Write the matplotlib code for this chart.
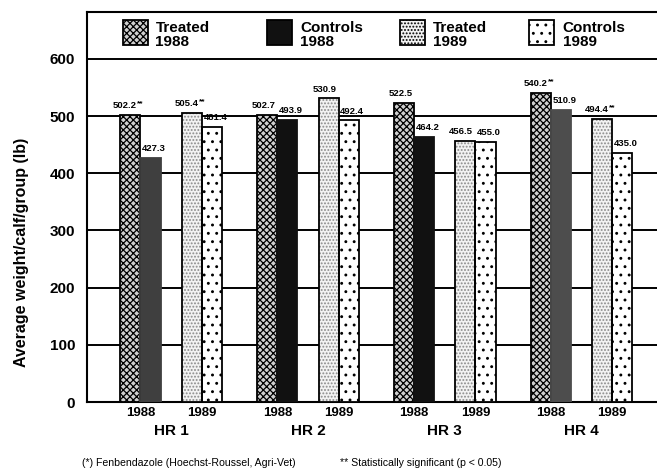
import matplotlib
matplotlib.use("Agg")
import matplotlib.pyplot as plt
from matplotlib.patches import Rectangle
from matplotlib.transforms import blended_transform_factory
import numpy as np

plt.rcParams['font.family'] = ['Liberation Sans', 'DejaVu Sans']
plt.rcParams['hatch.linewidth'] = 0.9

groups = ["HR 1", "HR 2", "HR 3", "HR 4"]
years = ["1988", "1989"]
treated_1988 = [502.2, 502.7, 522.5, 540.2]
controls_1988 = [427.3, 493.9, 464.2, 510.9]
treated_1989 = [505.4, 530.9, 456.5, 494.4]
controls_1989 = [481.4, 492.4, 455.0, 435.0]
sig_treated_1988 = [True, False, False, True]
sig_treated_1989 = [True, False, False, True]
legend_labels = ["Treated\n1988", "Controls\n1988", "Treated\n1989", "Controls\n1989"]
yticks = [0, 100, 200, 300, 400, 500, 600]

W, H = 657, 470
fig = plt.figure(figsize=(W / 100, H / 100), dpi=100)
ax_l, ax_r, ax_b, ax_t = 87, 657, 402, 12
ax = fig.add_axes([ax_l / W, (H - ax_b) / H, (ax_r - ax_l) / W + 0.005, (ax_b - ax_t) / H])

x = np.arange(len(groups))
w = 0.147
pair_off = 0.2243
styles = [
    dict(facecolor="#d0d0d0", hatch="xxxxx", hatchcol="black", edgecolor="black"),
    dict(facecolor="#111111", hatch=None, hatchcol="#111111", edgecolor="#111111"),
    dict(facecolor="#f2f2f2", hatch=".....", hatchcol="#8a8a8a", edgecolor="black"),
    dict(facecolor="white", hatch="..", hatchcol="black", edgecolor="black"),
]
ctrl88_colors = ["#3f3f3f", "#111111", "#111111", "#4d4d4d"]

series = [treated_1988, controls_1988, treated_1989, controls_1989]
positions = [x - pair_off - w / 2, x - pair_off + w / 2, x + pair_off - w / 2, x + pair_off + w / 2]

for i, (vals, pos) in enumerate(zip(series, positions)):
    st = styles[i]
    fills = ax.bar(pos, vals, width=w, facecolor=st["facecolor"], hatch=st["hatch"],
                   edgecolor=st["hatchcol"], linewidth=0, zorder=3)
    outl = ax.bar(pos, vals, width=w, fill=False, edgecolor=st["edgecolor"],
                  linewidth=1.3, zorder=4)
    if i == 1:
        for b, o, c in zip(fills, outl, ctrl88_colors):
            b.set_facecolor(c)
            o.set_edgecolor(c)

def label(xp, v, sig, dx):
    if sig:
        ax.annotate(f"{v:.1f}", (xp, v), xytext=(4.5, 3.5), textcoords="offset points",
                    ha="right", va="bottom", fontsize=6.8, fontweight="bold", zorder=5)
        ax.annotate("**", (xp, v), xytext=(5.0, 5.5), textcoords="offset points",
                    ha="left", va="bottom", fontsize=6, fontweight="bold", zorder=5)
    else:
        ax.annotate(f"{v:.1f}", (xp, v), xytext=(dx, 3.5), textcoords="offset points",
                    ha="center", va="bottom", fontsize=6.8, fontweight="bold", zorder=5)

for j in range(len(groups)):
    label(positions[0][j], treated_1988[j], sig_treated_1988[j], -2.5)
    label(positions[1][j], controls_1988[j], False, 2.5)
    label(positions[2][j], treated_1989[j], sig_treated_1989[j], -3.0)
    label(positions[3][j], controls_1989[j], False, 2.5)

for yv in yticks[1:]:
    ax.axhline(yv, color="black", linewidth=1.4, zorder=1)

ax.set_ylim(0, 682)
ax.set_xlim(-0.6154, 3.5757)
ax.set_yticks(yticks)
ax.set_yticklabels([str(t) for t in yticks], fontsize=11, fontweight="bold")
ax.tick_params(axis="y", length=0, pad=8.5)
ax.set_xticks(list(x - pair_off) + list(x + pair_off))
ax.set_xticklabels([years[0]] * 4 + [years[1]] * 4, fontsize=9.5, fontweight="bold")
ax.tick_params(axis="x", length=0, pad=3.5)
grp_tr = blended_transform_factory(ax.transData, fig.transFigure)
for j, g in enumerate(groups):
    ax.text(x[j], 1 - 431 / H, g, transform=grp_tr, ha="center", va="center",
            fontsize=11, fontweight="bold")

for s in ["left", "bottom", "top", "right"]:
    ax.spines[s].set_linewidth(1.5)

fig.text(22 / W, 1 - 252 / H, "Average weight/calf/group (lb)", rotation=90,
         ha="center", va="center", fontsize=11.5, fontweight="bold")

# legend strip inside top frame
hx = [123, 266, 398, 526]
tx = [155, 299, 431, 560]
aw, ah = ax_r - ax_l, ax_b - ax_t
for i in range(4):
    st = styles[i]
    r = Rectangle(((hx[i] - ax_l) / aw, (ax_b - 45) / ah), 25 / aw, 25 / ah,
                  transform=ax.transAxes, facecolor=st["facecolor"], hatch=st["hatch"],
                  edgecolor="black", linewidth=1.3, zorder=4, clip_on=False)
    ax.add_patch(r)
    ax.text((tx[i] - ax_l) / aw, (ax_b - 35) / ah, legend_labels[i], transform=ax.transAxes,
            ha="left", va="center", fontsize=11, fontweight="bold", linespacing=1.0)

fig.text(82 / W, 1 - 463 / H, "(*) Fenbendazole (Hoechst-Roussel, Agri-Vet)", fontsize=7.6,
         ha="left", va="center")
fig.text(340 / W, 1 - 463 / H, "** Statistically significant (p < 0.05)", fontsize=7.6,
         ha="left", va="center")

fig.savefig("out.png", dpi=100)
